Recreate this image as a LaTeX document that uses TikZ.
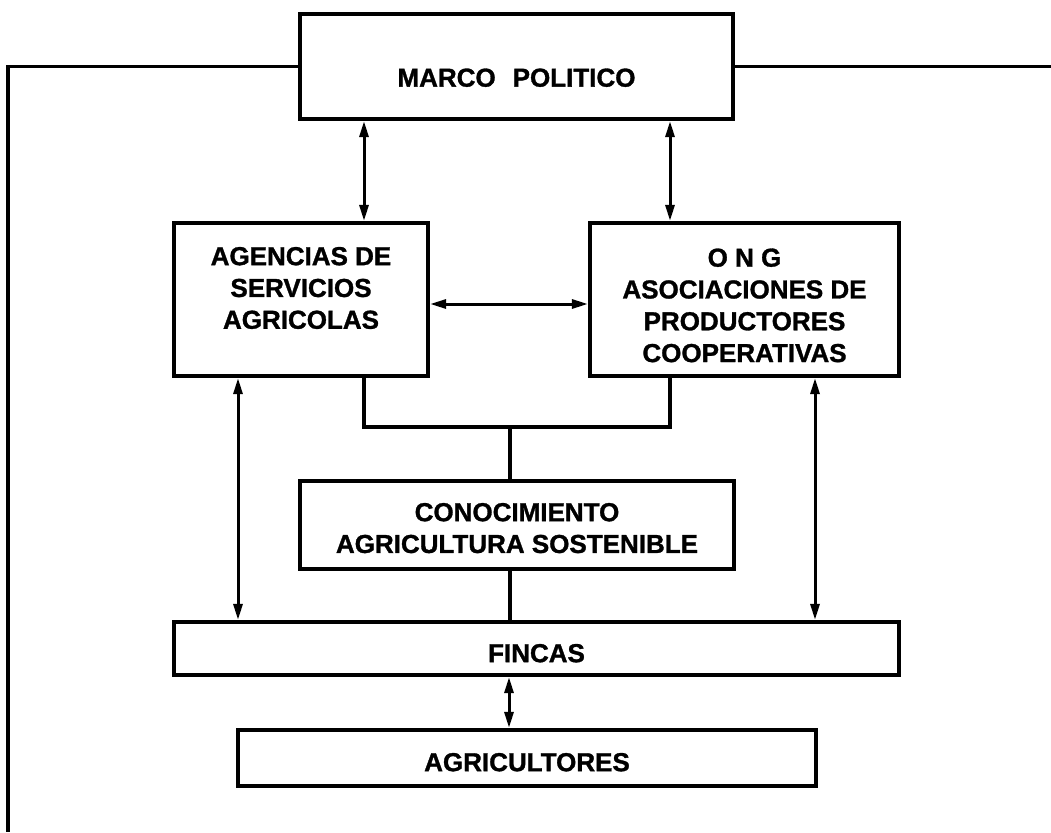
\documentclass[tikz,border=0pt]{standalone}
\usepackage{fontspec}
\setmainfont{Liberation Sans}[BoldFeatures={FakeBold=1.2}]
\usetikzlibrary{arrows.meta}
\newcommand{\mybox}[4]{\parbox[c][#2pt][t]{#1pt}{\vspace*{#3pt}\centering #4\par}}
\begin{document}
\begin{tikzpicture}[x=1pt,y=-1pt,
  box/.style={draw, line width=4.2pt, inner sep=0pt, font=\bfseries\fontsize{26}{31.8}\selectfont},
  arr/.style={line width=3pt, {Triangle[length=16pt,width=9pt]}-{Triangle[length=16pt,width=9pt]}},
  ln/.style={line width=3.2pt},
  frame/.style={line width=3.6pt}]
\useasboundingbox (0,0) rectangle (1051,832);
\fill[white] (0,0) rectangle (1051,832);

\node[box] (marco) at (516.5,66.5) {\mybox{433}{105}{54.5}{MARCO\hspace{17pt}POLITICO}};
\node[box] (ag) at (301,299.5) {\mybox{254}{153}{24}{AGENCIAS DE\\SERVICIOS\\AGRICOLAS}};
\node[box] (ong) at (744.5,299.5) {\mybox{309}{153}{25.5}{O N G\\ASOCIACIONES DE\\PRODUCTORES\\COOPERATIVAS}};
\node[box] (con) at (517,525) {\mybox{434}{88}{22}{CONOCIMIENTO\\AGRICULTURA SOSTENIBLE}};
\node[box] (fin) at (536.5,648.5) {\mybox{725}{53}{22}{FINCAS}};
\node[box] (agr) at (527,758) {\mybox{578}{56}{23}{AGRICULTORES}};

\coordinate (xa) at (364,0);
\coordinate (xb) at (670,0);
\coordinate (xl) at (238,0);
\coordinate (xr) at (815,0);
\coordinate (xc) at (510,0);
\coordinate (xf) at (509,0);
\coordinate (yh) at (0,304);
\coordinate (jl) at (364,427);
\coordinate (jr) at (670,427);
\coordinate (jc) at (510,427);
\coordinate (fl) at (8,832);
\coordinate (fr) at (1051,0);

% outer frame
\draw[frame] (marco.west) -| (fl);
\draw[frame] (marco.east) -- (marco.east -| fr);

% arrows
\draw[arr] (xa |- marco.south) -- (xa |- ag.north);
\draw[arr] (xb |- marco.south) -- (xb |- ong.north);
\draw[arr] (ag.east |- yh) -- (ong.west |- yh);
\draw[arr] (xl |- ag.south) -- (xl |- fin.north);
\draw[arr] (xr |- ong.south) -- (xr |- fin.north);
\draw[arr] (xf |- fin.south) -- (xf |- agr.north);

% plain connectors
\draw[ln] (xa |- ag.south) -- (jl) -- (jr) -- (xb |- ong.south);
\draw[ln] (jc) -- (jc |- con.north);
\draw[ln] (xc |- con.south) -- (xc |- fin.north);
\end{tikzpicture}
\end{document}
